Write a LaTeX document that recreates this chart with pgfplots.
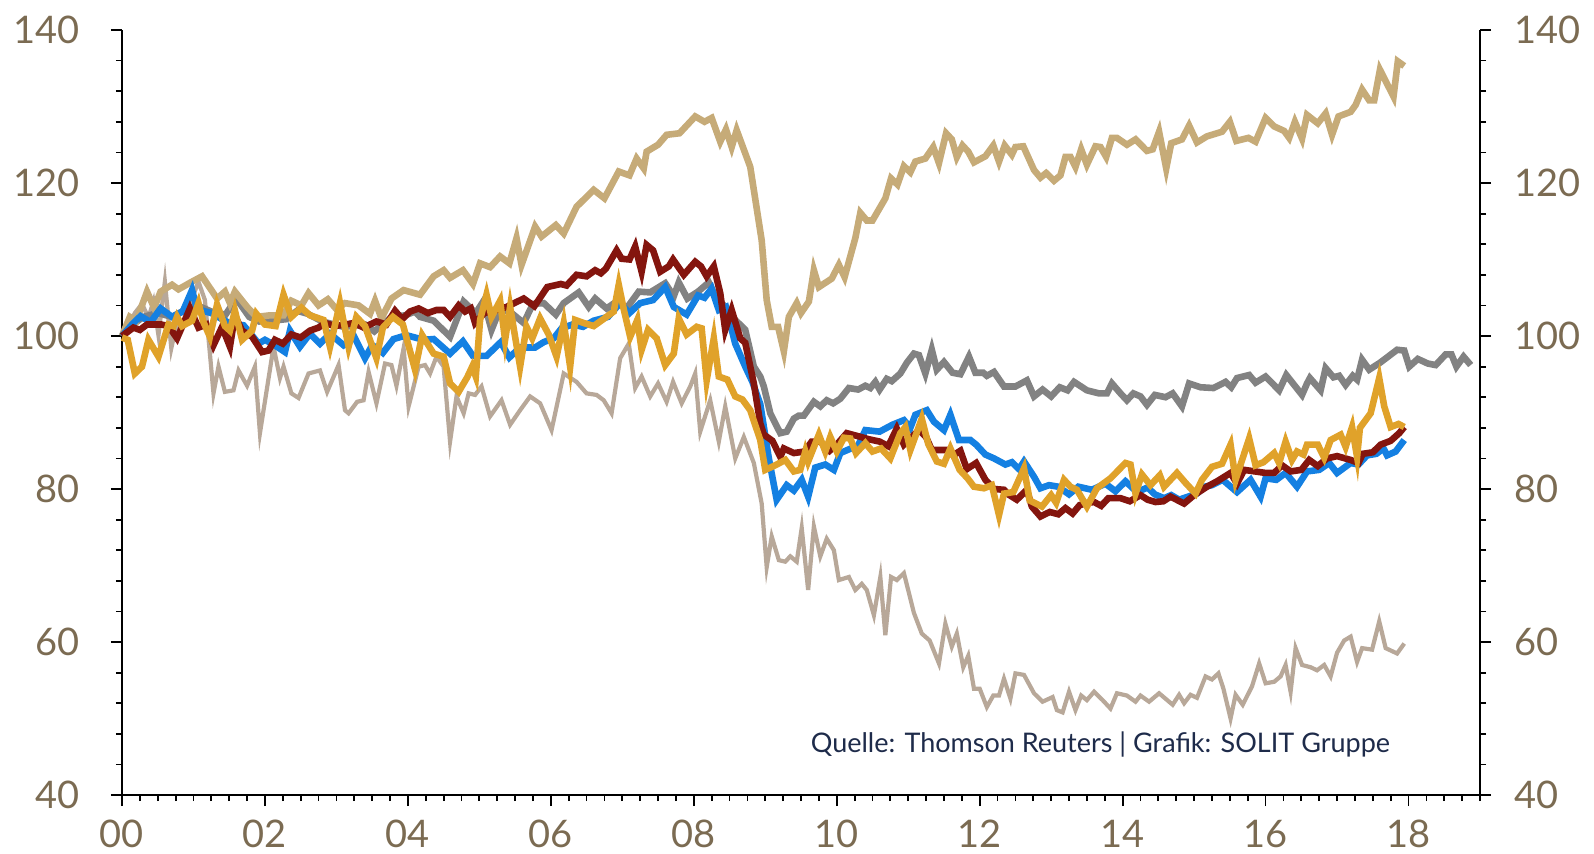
\documentclass[border=0pt]{standalone}
\usepackage{pgfplots}
\pgfplotsset{compat=1.18}
\usepackage{fontspec}
\setmainfont{Lato}
\definecolor{tanline}{HTML}{C6AB78}
\definecolor{grayline}{HTML}{828282}
\definecolor{blueline}{HTML}{1480E2}
\definecolor{redline}{HTML}{84150E}
\definecolor{orangeline}{HTML}{E0A22A}
\definecolor{taupeline}{HTML}{B8A899}
\definecolor{ticktext}{HTML}{7B6B52}
\definecolor{srctext}{HTML}{1E2B4A}

\pgfplotsset{
  basechart/.style={
    scale only axis, width=679pt, height=382.5pt,
    xmin=0, xmax=19, ymin=40, ymax=140,
    ytick={40,60,...,140}, minor ytick={40,44,...,140},
    tick align=outside, major tick length=5.5pt, minor tick length=3pt,
    every tick/.style={black, line width=0.9pt},
    every minor tick/.style={black, line width=0.9pt},
    axis line style={black, line width=1pt},
    tick label style={font=\fontsize{19}{22}\selectfont, text=ticktext},
    /pgf/number format/assume math mode=true,
    clip=false,
  }
}

\begin{document}
\begin{tikzpicture}
\begin{axis}[basechart, name=main,
  axis x line*=bottom, axis y line*=left,
  xtick={0,2,...,18}, xticklabels={00,02,04,06,08,10,12,14,16,18},
  minor xtick={0,0.25,...,19},
  yticklabel style={xshift=-12pt},
  xticklabel style={yshift=-3.5pt},
  every plot/.style={line join=round, line cap=round},
  ]
% taupe
\addplot[color=taupeline, line width=2.1pt] coordinates {
(0,100.6) (0.1,101.5) (0.18,103) (0.28,104.2) (0.37,102.4) (0.44,104.5) (0.51,100.1) (0.6,107.1) (0.69,98.4) (0.79,102.7) (0.88,103.3) (0.98,104.9) (1.07,107.1) (1.16,104.7) (1.23,97.7) (1.28,92.5) (1.35,96) (1.44,92.7) (1.56,92.9) (1.63,95.5) (1.75,93.5) (1.86,96) (1.93,87.3) (2.12,98.6) (2.21,94.5) (2.26,96) (2.37,92.5) (2.47,91.9) (2.61,95.1) (2.77,95.5) (2.87,92.7) (3.03,96.2) (3.12,90.3) (3.17,89.9) (3.29,91.4) (3.38,91.6) (3.45,95.3) (3.56,91.2) (3.68,96.4) (3.77,96.2) (3.84,93.5) (3.94,98.4) (4.01,90.8) (4.15,96) (4.24,96.2) (4.31,95.1) (4.4,97.3) (4.5,96) (4.59,86.2) (4.68,92.1) (4.78,89.9) (4.85,92.5) (4.94,92.3) (5.03,93.4) (5.15,89.5) (5.31,91.6) (5.43,88.4) (5.57,90.3) (5.71,92.1) (5.85,91.2) (6.01,87.7) (6.18,95.1) (6.36,94) (6.5,92.5) (6.64,92.3) (6.74,91.6) (6.85,89.9) (6.97,97.1) (7.09,99) (7.18,93.2) (7.27,94.7) (7.39,92.1) (7.5,93.8) (7.62,91.4) (7.71,94) (7.83,91.2) (7.95,93.4) (8.02,95.1) (8.09,87.5) (8.23,91.6) (8.35,86.2) (8.44,90.8) (8.58,84) (8.7,86.8) (8.84,83.4) (8.95,78.1) (9.02,69.8) (9.09,73.8) (9.19,70.7) (9.28,70.5) (9.35,71.2) (9.44,70.5) (9.51,74.9) (9.6,66.8) (9.68,75.1) (9.77,71.2) (9.86,73.5) (9.96,72) (10.03,68.1) (10.17,68.5) (10.26,66.8) (10.35,67.6) (10.42,66.8) (10.52,63.5) (10.61,68.5) (10.68,60.9) (10.76,68.5) (10.84,68.1) (10.94,69) (11.08,63.8) (11.19,61.1) (11.3,60.2) (11.43,57.2) (11.52,62.4) (11.61,59.4) (11.68,61.1) (11.77,56.7) (11.84,58.2) (11.92,53.9) (12.0,53.9) (12.1,51.5) (12.19,53) (12.27,53) (12.34,55.2) (12.43,52.6) (12.5,55.9) (12.62,55.7) (12.76,53.3) (12.88,52.2) (13.02,52.8) (13.08,51.1) (13.16,50.8) (13.25,53.5) (13.34,51.1) (13.42,53) (13.5,52.4) (13.6,53.5) (13.72,52.4) (13.83,51.3) (13.92,53.3) (14.06,53) (14.18,52.2) (14.25,53) (14.37,52.2) (14.51,53.3) (14.7,51.8) (14.79,53.1) (14.86,52) (14.95,53.1) (15.04,52.7) (15.16,55.5) (15.25,55.1) (15.34,55.9) (15.41,53.9) (15.51,50) (15.58,53.1) (15.68,51.8) (15.81,54.2) (15.91,57.2) (16.0,54.6) (16.12,54.8) (16.21,55.5) (16.28,57) (16.35,53.5) (16.42,59.2) (16.51,57) (16.63,56.7) (16.72,56.3) (16.82,57) (16.91,55.5) (17.0,58.6) (17.1,60.2) (17.19,60.7) (17.28,57.4) (17.35,59.2) (17.49,59) (17.59,62.7) (17.68,59.2) (17.84,58.5) (17.94,59.8)};
% gray
\addplot[color=grayline, line width=3.3pt] coordinates {
(0,100) (0.15,101.5) (0.3,102.5) (0.5,103) (0.7,102.5) (0.9,103.5) (1.05,104) (1.3,103) (1.45,102.8) (1.6,104.9) (1.78,102.5) (1.92,101.9) (2.1,102) (2.3,102.2) (2.45,103.3) (2.6,102.9) (2.8,101.9) (3.1,101.2) (3.4,101.5) (3.53,100.6) (3.77,102.5) (3.96,102.7) (4.1,103.2) (4.17,102.5) (4.36,102) (4.59,99.9) (4.78,104.5) (4.95,103) (5.06,104.6) (5.17,100.8) (5.29,103.6) (5.45,103) (5.62,101.7) (5.75,104.2) (5.9,104.3) (6.07,102.8) (6.18,104.3) (6.39,105.7) (6.53,103.8) (6.62,104.9) (6.78,103.6) (6.95,104.7) (7.05,103.5) (7.23,105.8) (7.39,105.7) (7.6,106.9) (7.72,105.2) (7.79,107) (7.91,104.9) (8.06,105.8) (8.21,107) (8.3,105.2) (8.46,103.6) (8.58,102.1) (8.72,100.8) (8.84,96) (8.93,94.7) (8.98,93.4) (9.07,89.9) (9.21,87.3) (9.3,87.5) (9.4,89.2) (9.47,89.6) (9.54,89.6) (9.68,91.4) (9.77,90.8) (9.86,91.6) (9.95,91.2) (10.05,91.8) (10.17,93.2) (10.3,93) (10.4,93.5) (10.47,93.2) (10.54,94) (10.6,93) (10.7,94.4) (10.77,94.1) (10.89,95.1) (10.98,96.5) (11.08,97.7) (11.15,97.5) (11.24,95.1) (11.33,98.2) (11.4,95.6) (11.5,96.6) (11.62,95.2) (11.73,95) (11.85,97.3) (11.94,95.2) (12.05,95.2) (12.1,94.8) (12.2,95.3) (12.34,93.4) (12.5,93.4) (12.66,94.2) (12.76,92.1) (12.88,93) (13.0,92.1) (13.12,93.3) (13.23,92.9) (13.32,94) (13.5,92.9) (13.67,92.5) (13.78,92.5) (13.85,93.8) (13.97,92.5) (14.06,91.6) (14.15,92.5) (14.25,92.1) (14.34,91) (14.45,92.3) (14.6,92) (14.7,92.5) (14.83,90.8) (14.93,93.8) (15.09,93.3) (15.27,93.2) (15.44,94) (15.52,93.3) (15.6,94.5) (15.77,94.9) (15.86,93.9) (16.0,94.7) (16.19,92.9) (16.29,94.9) (16.51,92.3) (16.58,93.8) (16.62,94.5) (16.77,92.9) (16.84,95.8) (16.95,94.6) (17.03,94.8) (17.12,93.6) (17.22,94.8) (17.28,94.3) (17.35,96.9) (17.45,95.6) (17.6,96.5) (17.77,97.7) (17.84,98.2) (17.94,98.1) (18.01,96) (18.13,97) (18.27,96.4) (18.38,96.2) (18.52,97.6) (18.6,97.6) (18.67,96) (18.77,97.3) (18.87,96.2)};
% tan
\addplot[color=tanline, line width=3.3pt] coordinates {
(0,100) (0.11,102.5) (0.2,102) (0.35,105.8) (0.45,103.7) (0.54,105.8) (0.7,106.7) (0.79,106.1) (0.96,107) (1.12,107.8) (1.33,104.9) (1.44,105.8) (1.51,104.3) (1.58,105.8) (1.75,103.8) (1.88,102.5) (2.07,102.7) (2.26,102.7) (2.37,104.6) (2.51,104) (2.61,105.6) (2.75,104) (2.88,104.8) (3.0,103.5) (3.12,104.3) (3.31,104) (3.47,102.9) (3.54,104.6) (3.63,102.3) (3.77,104.9) (3.94,106) (4.17,105.4) (4.36,107.8) (4.5,108.6) (4.59,107.6) (4.77,108.6) (4.91,106.8) (5.01,109.5) (5.15,109) (5.29,110.4) (5.42,109.5) (5.52,112.8) (5.59,109.3) (5.78,114.3) (5.87,113) (6.07,114.5) (6.18,113.4) (6.36,116.9) (6.6,119.1) (6.75,118) (6.95,121.5) (7.1,121) (7.2,123.2) (7.3,121.9) (7.34,124.1) (7.5,125) (7.62,126.3) (7.8,126.5) (8.02,128.7) (8.15,128) (8.25,128.5) (8.37,125.4) (8.45,127) (8.53,124.7) (8.6,126.9) (8.79,122.1) (8.95,112.5) (9.02,104.7) (9.09,101.2) (9.18,101.2) (9.26,98) (9.33,102.5) (9.44,104.3) (9.5,103) (9.61,104.5) (9.68,108.6) (9.75,106.4) (9.93,107.5) (10.03,109.3) (10.11,107.7) (10.26,112.8) (10.33,116.1) (10.42,115.1) (10.5,115.1) (10.68,118) (10.76,120.6) (10.85,119.8) (10.94,122.2) (11.03,121.4) (11.1,122.8) (11.24,123.2) (11.35,124.7) (11.43,122.6) (11.53,126.5) (11.61,125.7) (11.68,123.4) (11.76,124.9) (11.84,124.1) (11.92,122.7) (12.08,123.5) (12.19,124.9) (12.27,122.8) (12.35,124.9) (12.45,123.7) (12.5,124.7) (12.61,124.8) (12.76,121.7) (12.85,120.7) (12.93,121.3) (13.04,120.3) (13.13,121) (13.2,123.4) (13.27,123.4) (13.34,122.1) (13.42,124.4) (13.5,122.4) (13.62,124.8) (13.69,124.7) (13.77,123.4) (13.85,125.9) (13.92,125.9) (14.06,125) (14.18,125.7) (14.34,124.2) (14.42,124.4) (14.51,126.7) (14.61,121.9) (14.68,125.2) (14.83,125.7) (14.93,127.5) (15.04,125.3) (15.18,126.1) (15.39,126.7) (15.5,128) (15.59,125.5) (15.76,125.9) (15.86,125.4) (16.0,128.5) (16.12,127.4) (16.26,126.8) (16.33,125.9) (16.41,128) (16.51,125.8) (16.58,128.9) (16.73,127.8) (16.84,129.1) (16.93,126.3) (17.02,128.7) (17.19,129.3) (17.26,130.2) (17.35,132.2) (17.45,130.8) (17.52,130.8) (17.6,134.8) (17.79,131.3) (17.85,135.9) (17.94,135.3)};
% blue
\addplot[color=blueline, line width=3.3pt] coordinates {
(0,100) (0.15,101.6) (0.26,102.6) (0.4,101.8) (0.54,103.6) (0.7,102.5) (0.85,103.2) (0.98,106) (1.05,103.5) (1.25,103) (1.4,102.2) (1.52,101.6) (1.7,101.4) (1.8,100.3) (1.91,99) (2.0,99.5) (2.12,98.9) (2.28,97.9) (2.35,100.7) (2.49,98.6) (2.63,100.3) (2.77,99) (2.91,100.3) (3.1,98.8) (3.25,99.9) (3.4,97.1) (3.5,98.8) (3.6,98.2) (3.65,97.8) (3.8,99.6) (3.98,100.1) (4.1,99.8) (4.22,99.5) (4.36,99.6) (4.59,97.7) (4.77,99.3) (4.91,97.4) (5.1,97.4) (5.3,99.2) (5.42,97.2) (5.57,98.5) (5.78,98.5) (5.9,99.2) (6.04,99.7) (6.15,101) (6.3,101.5) (6.45,101.2) (6.6,102) (6.8,102.5) (6.97,104.3) (7.1,103) (7.25,104.3) (7.43,104.7) (7.6,106.4) (7.72,103.8) (7.9,102.8) (8.06,105.3) (8.15,105) (8.25,106.2) (8.35,103.4) (8.45,103.8) (8.58,99) (8.72,96) (8.82,94) (8.93,91.1) (9.05,84) (9.16,78.6) (9.3,80.5) (9.4,79.8) (9.51,81.2) (9.6,79) (9.7,82.8) (9.84,83.2) (9.96,82.5) (10.05,84.7) (10.2,85.3) (10.3,85.7) (10.4,87.7) (10.6,87.5) (10.78,88.4) (10.94,89) (11.03,88) (11.1,89.7) (11.26,90.3) (11.36,88.8) (11.5,87.7) (11.59,89.7) (11.71,86.4) (11.87,86.4) (11.95,85.8) (12.08,84.5) (12.2,84) (12.36,83.2) (12.45,83.5) (12.55,82.6) (12.62,83.6) (12.76,81.6) (12.85,80.1) (12.97,80.5) (13.1,80.3) (13.25,79.3) (13.38,80.3) (13.57,79.9) (13.76,80.7) (13.9,79.7) (14.04,81) (14.2,79.6) (14.35,80.2) (14.45,79.3) (14.58,78.8) (14.68,79.2) (14.79,78.6) (15.04,79.4) (15.15,80.3) (15.25,80.5) (15.4,81.2) (15.6,79.6) (15.79,81.2) (15.93,79) (16.0,81.4) (16.15,81.2) (16.28,82.1) (16.44,80.3) (16.58,82.3) (16.75,82.5) (16.89,83.4) (17.0,82.1) (17.19,83.4) (17.3,83.2) (17.42,84.4) (17.55,84.6) (17.65,85.3) (17.7,84.4) (17.82,84.9) (17.94,86.4)};
% dark red
\addplot[color=redline, line width=3.3pt] coordinates {
(0,100) (0.16,101.1) (0.25,100.8) (0.35,101.5) (0.55,101.5) (0.65,101.3) (0.77,99.7) (0.84,101.2) (0.95,103.6) (1.07,101.1) (1.18,101.5) (1.28,98.8) (1.4,101.2) (1.51,98.6) (1.58,102.7) (1.68,100.7) (1.82,99.9) (1.96,97.9) (2.05,98.1) (2.14,99.5) (2.25,99) (2.37,100.2) (2.5,99.8) (2.63,100.7) (2.75,101.1) (2.84,101.7) (2.98,101.3) (3.12,101.5) (3.25,101.7) (3.38,101.1) (3.56,101.9) (3.7,101.5) (3.82,103.3) (3.92,102.2) (4.03,103.2) (4.15,103.6) (4.28,103) (4.4,103.4) (4.5,103.4) (4.59,102.5) (4.71,104) (4.8,103.2) (4.88,103.6) (4.94,101.7) (5.07,103) (5.24,103.4) (5.38,103.8) (5.62,104.9) (5.77,103.9) (5.95,106.4) (6.14,106.8) (6.22,106.6) (6.36,108) (6.5,107.8) (6.62,108.6) (6.7,108.2) (6.77,108.8) (6.92,111.2) (6.99,110.1) (7.1,110) (7.18,111.7) (7.27,108.4) (7.34,111.9) (7.43,111.2) (7.53,108.4) (7.65,109.1) (7.71,110) (7.86,108) (8.02,109.7) (8.1,109.1) (8.18,107.8) (8.28,109.1) (8.37,105.6) (8.44,100.8) (8.53,103.4) (8.65,99.7) (8.72,99.1) (8.84,93.8) (8.93,88.6) (8.98,87.1) (9.1,86.3) (9.21,84.2) (9.26,85.3) (9.4,84.7) (9.55,84.9) (9.65,86.2) (9.77,86.2) (9.9,85) (10.0,85.8) (10.14,87.3) (10.3,86.9) (10.45,86.5) (10.6,86.2) (10.72,85.6) (10.84,87.9) (10.94,85.8) (11.05,86.8) (11.15,87.7) (11.25,86.8) (11.33,85.1) (11.5,85.1) (11.58,85.1) (11.63,84.4) (11.73,85) (11.82,82.6) (11.95,83.4) (12.08,81.2) (12.2,80) (12.34,79.9) (12.4,79.3) (12.52,78.6) (12.66,79.9) (12.73,77.7) (12.85,76.4) (12.98,77) (13.1,76.7) (13.2,77.5) (13.3,76.8) (13.4,77.9) (13.52,78.2) (13.6,78.3) (13.7,77.8) (13.8,78.8) (13.97,78.8) (14.1,78.4) (14.25,79.2) (14.35,78.6) (14.46,78.3) (14.57,78.4) (14.67,79) (14.86,78.1) (15.0,79.2) (15.18,80.3) (15.32,81) (15.51,82.1) (15.6,80.7) (15.7,82.5) (15.85,82.3) (16.0,82.1) (16.12,82.1) (16.23,83.1) (16.35,82.3) (16.5,82.5) (16.61,83.8) (16.73,83) (16.86,84) (17.0,84.3) (17.19,83.8) (17.3,83.4) (17.36,84.6) (17.5,84.8) (17.61,85.8) (17.75,86.3) (17.87,87.3) (17.94,88.1)};
% orange
\addplot[color=orangeline, line width=3.3pt] coordinates {
(0,99.8) (0.08,99.5) (0.18,95.1) (0.28,96) (0.37,99.5) (0.51,97.3) (0.65,101.5) (0.72,101.3) (0.77,102.5) (0.84,101.3) (0.98,102) (1.07,104.3) (1.14,101.8) (1.23,99.9) (1.33,104.1) (1.44,101.3) (1.51,100.7) (1.58,103.3) (1.68,99.5) (1.82,100.7) (1.88,102.9) (2.0,101.5) (2.15,101.3) (2.26,105.4) (2.37,102.5) (2.51,103.7) (2.63,102.7) (2.82,102.1) (2.91,98.6) (3.05,104.3) (3.17,98.6) (3.28,102.5) (3.4,101.3) (3.56,97.1) (3.65,101.1) (3.79,102.5) (3.93,101.5) (4.1,95.6) (4.2,100.1) (4.36,97.7) (4.5,97.3) (4.59,93.8) (4.71,92.7) (4.83,94.6) (4.9,96) (4.95,94.7) (5.01,102.1) (5.1,105.4) (5.17,102.5) (5.29,104.6) (5.36,99.5) (5.43,103.8) (5.57,96) (5.66,101.2) (5.74,99.7) (5.85,102.3) (5.97,100.2) (6.08,97.3) (6.18,101.7) (6.27,96) (6.34,102.1) (6.46,101.7) (6.6,101.3) (6.72,102.1) (6.88,103.2) (6.95,106.7) (7.02,103.5) (7.11,99.9) (7.21,102.1) (7.27,98.2) (7.36,100.8) (7.48,99.7) (7.6,96.2) (7.72,97.7) (7.79,102.3) (7.9,100.2) (8.04,101.2) (8.11,101) (8.18,94.2) (8.28,99.7) (8.35,94.7) (8.47,94.3) (8.58,92.1) (8.68,91.7) (8.79,90.3) (8.93,86.4) (9.0,82.5) (9.14,83.1) (9.28,83.8) (9.4,82.3) (9.49,82.5) (9.56,84.9) (9.6,83.6) (9.75,87.1) (9.84,84.9) (9.91,86.8) (10.0,84.9) (10.1,86.7) (10.19,86.6) (10.27,84.7) (10.4,86) (10.5,84.9) (10.62,85.3) (10.75,84) (10.89,87.3) (10.96,88.1) (11.03,85.1) (11.19,89.2) (11.28,85.9) (11.4,83.6) (11.5,83.3) (11.59,85.3) (11.72,82.5) (11.83,81.4) (11.92,80.3) (12.06,80.1) (12.17,80.5) (12.27,76.6) (12.34,79.4) (12.47,79.6) (12.62,82.7) (12.7,78.5) (12.87,77.7) (13.0,79.2) (13.07,78.2) (13.18,81.2) (13.27,80.3) (13.36,79.9) (13.5,77.7) (13.64,80.1) (13.83,81.4) (14.04,83.4) (14.11,83.2) (14.18,79.4) (14.27,81.9) (14.39,80.5) (14.52,81.8) (14.58,80.3) (14.76,82.1) (14.88,80.8) (15.02,79.4) (15.11,81.2) (15.25,82.9) (15.39,83.3) (15.51,85.8) (15.58,81.2) (15.77,86.6) (15.86,83.1) (15.97,83.5) (16.12,84.7) (16.19,83.4) (16.28,86.2) (16.37,83.8) (16.44,84.9) (16.53,84.5) (16.58,85.8) (16.73,85.8) (16.82,84.1) (16.91,86.4) (17.05,87.1) (17.12,85.5) (17.21,88.1) (17.28,84.2) (17.32,88) (17.47,89.9) (17.59,94.5) (17.66,90.8) (17.75,88.1) (17.86,88.5) (17.94,88.1)};
\node[anchor=base east, inner sep=0pt, text=srctext, font=\fontsize{13.5}{16}\selectfont]
  at (rel axis cs:0.934,0.055) {Quelle: Thomson Reuters | Grafik: SOLIT Gruppe};
\end{axis}
\begin{axis}[basechart,
  axis x line=none, axis y line*=right,
  yticklabel style={xshift=8pt},
  ]
\end{axis}
\pgfresetboundingbox
\path[use as bounding box] ([xshift=-61pt,yshift=-29pt]main.south west) rectangle ([xshift=57pt,yshift=15pt]main.north east);
\end{tikzpicture}
\end{document}
